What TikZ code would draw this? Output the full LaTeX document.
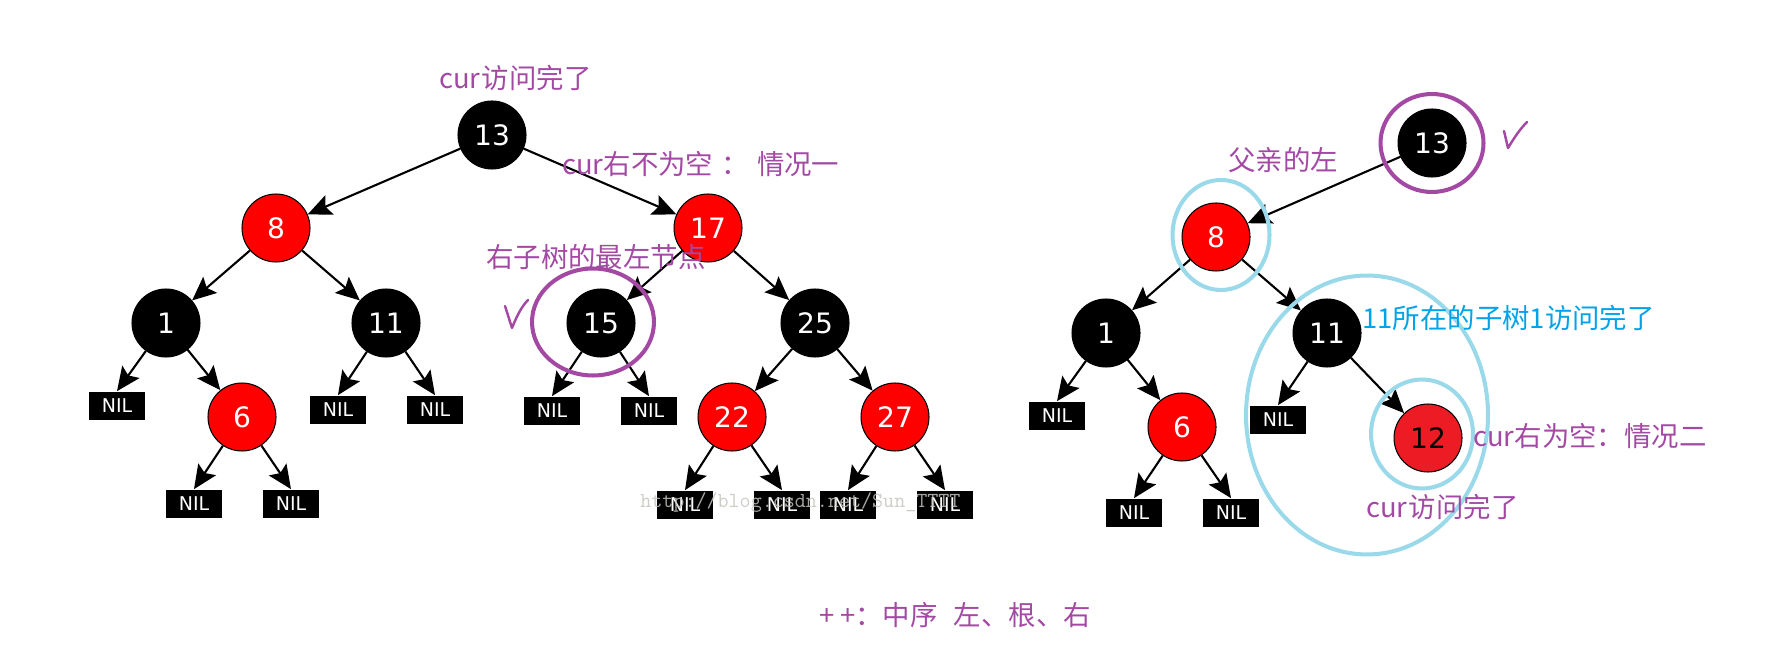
\documentclass[tikz,border=0pt]{standalone}
\usepackage{fontspec}
\usepackage{tikz}
\usetikzlibrary{arrows.meta}
\newfontfamily\cjk{Noto Sans CJK SC}
\newfontfamily\numfont{DejaVu Sans}
\definecolor{notePurple}{RGB}{163,73,164}
\definecolor{noteBlue}{RGB}{0,162,232}
\definecolor{ringCyan}{RGB}{153,217,234}
\definecolor{paintRed}{RGB}{237,28,36}
\definecolor{markGray}{RGB}{196,196,190}
\tikzset{
  rbNode/.style={circle,draw=black,line width=0.6pt,fill=#1,minimum size=1.36cm,
                 inner sep=0pt,text=white,font=\numfont\fontsize{16}{17}\selectfont},
  nilBox/.style={rectangle,fill=black,text=white,minimum width=1.12cm,
                 minimum height=0.58cm,inner sep=0pt,font=\numfont\fontsize{10.8}{11}\selectfont},
  rbArrow/.style={-{Stealth[length=13.5pt,width=12pt,inset=2.5pt]},line width=1.2pt},
  noteText/.style={text=#1,font=\cjk\fontsize{15.6}{17}\selectfont,inner sep=0pt,anchor=west},
  ringLine/.style={draw=#1,line width=2.3pt},
}

\begin{document}
\begin{tikzpicture}[x=0.02cm,y=-0.02cm,
  n/.style={noteText=notePurple},
  tick/.style={notePurple,line width=1.4pt,line cap=round,line join=round}]
  \useasboundingbox (0,0) rectangle (1773,651);
  \node[rbNode=black](L13) at (492,135){13};
  \node[rbNode=red](L8) at (276,228){8};
  \node[rbNode=red](L17) at (708,228){17};
  \node[rbNode=black](L1) at (166,323){1};
  \node[rbNode=black](L11) at (386,323){11};
  \node[rbNode=black](L15) at (601,323){15};
  \node[rbNode=black](L25) at (815,323){25};
  \node[rbNode=red](L6) at (242,417){6};
  \node[rbNode=red](L22) at (732,417){22};
  \node[rbNode=red](L27) at (895,417){27};
  \node[nilBox](La) at (117,406){NIL};
  \node[nilBox](Lb) at (338,410){NIL};
  \node[nilBox](Lc) at (435,410){NIL};
  \node[nilBox](Ld) at (552,411){NIL};
  \node[nilBox](Le) at (649,411){NIL};
  \node[nilBox](Lf) at (194,504){NIL};
  \node[nilBox](Lg) at (291,504){NIL};
  \node[nilBox](Lh) at (685,505){NIL};
  \node[nilBox](Li) at (782,505){NIL};
  \node[nilBox](Lj) at (848,505){NIL};
  \node[nilBox](Lk) at (945,505){NIL};
  \foreach \x/\y in {L13/L8,L13/L17,L8/L1,L8/L11,L17/L15,L17/L25,L25/L22,L25/L27,L1/L6,
    L1/La.north,L11/Lb.north,L11/Lc.north,L15/Ld.north,L15/Le.north,L6/Lf.north,L6/Lg.north,
    L22/Lh.north,L22/Li.north,L27/Lj.north,L27/Lk.north}{\draw[rbArrow](\x)--(\y);}
  \node[rbNode=black](R13) at (1432,143){13};
  \node[rbNode=red](R8) at (1216,237){8};
  \node[rbNode=black](R1) at (1106,333){1};
  \node[rbNode=black](R11) at (1327,333){11};
  \node[rbNode=red](R6) at (1182,427){6};
  \node[rbNode=paintRed,text=black](R12) at (1428,438){12};
  \node[nilBox](Ra) at (1057,416){NIL};
  \node[nilBox](Rb) at (1278,420){NIL};
  \node[nilBox](Rc) at (1134,513){NIL};
  \node[nilBox](Rd) at (1231,513){NIL};
  \foreach \x/\y in {R13/R8,R8/R1,R8/R11,R1/R6,R11/R12,R1/Ra.north,R11/Rb.north,
    R6/Rc.north,R6/Rd.north}{\draw[rbArrow](\x)--(\y);}
  \draw[ringLine=notePurple] (L15) ++(-8,-1) ellipse [x radius=1.22cm,y radius=1.07cm];
  \draw[ringLine=notePurple] (R13) ellipse [x radius=1.03cm,y radius=0.98cm];
  \draw[ringLine=ringCyan] (R8) ++(5,-2) ellipse [x radius=0.97cm,y radius=1.1cm];
  \draw[ringLine=ringCyan] (R12) ++(-6,-4) ellipse [x radius=1.02cm,y radius=1.09cm];
  \draw[ringLine=ringCyan] (1367,415) ellipse [x radius=2.42cm,y radius=2.79cm];
  \draw[tick] (505,306) -- (512,328) .. controls (516,318) and (521,307) .. (528,300);
  \draw[tick] (1504,131) -- (1508,148) .. controls (1514,138) and (1520,129) .. (1527,122);
  \node[n](t1) at (439,78){cur\hspace{0.05em}访问完了};
  \node[n](t2) at (562,164){cur右不为空\hspace{0.3em}：\hspace{0.3em}情况一};
  \node[n](t3) at (486,257){右子树的最左节点};
  \node[n](t4) at (1228,160){父亲的左};
  \node[noteText=noteBlue](t5) at (1362,318){11所在的子树1访问完了};
  \node[n](t6) at (1473,436){cur右为空：情况二};
  \node[n](t7) at (1366,507){cur\hspace{0.05em}访问完了};
  \node[n](t8) at (819,615){+\hspace{0.2em}+：中序\hspace{0.6em}左、根、右};
  \node[anchor=west,inner sep=0pt,text=markGray,opacity=0.85,
        font=\ttfamily\fontsize{12.2}{13}\selectfont](wm) at (640,503){http://blog.csdn.net/Sun\_TTTT};
\end{tikzpicture}
\end{document}
